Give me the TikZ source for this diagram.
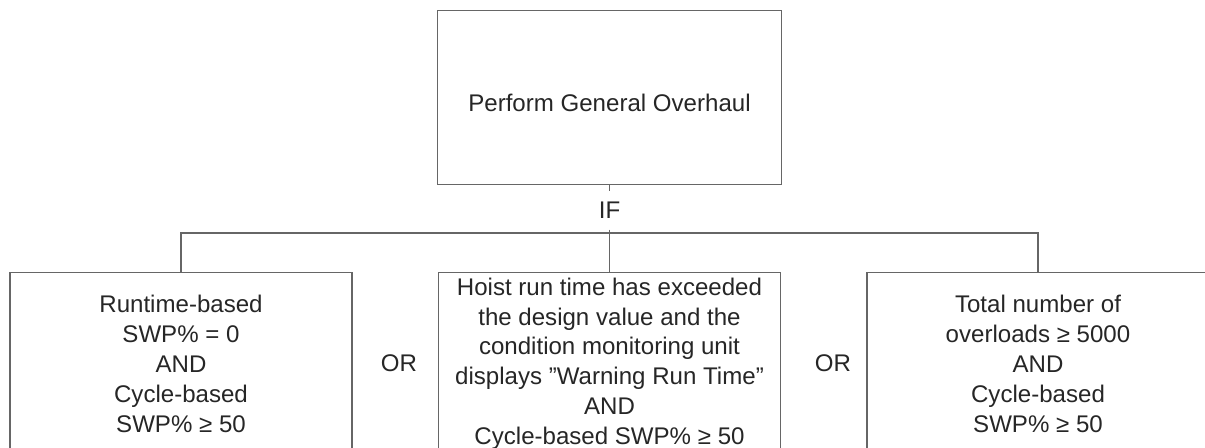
\documentclass[tikz,border=0pt]{standalone}
\usepackage{fontspec}
\setmainfont{Liberation Sans}
\usetikzlibrary{positioning}

\begin{document}
\begin{tikzpicture}[
    cond/.style={draw=black!60, line width=0.8pt, minimum width=6.84cm, minimum height=3.64cm,
                 inner sep=0pt, align=center, anchor=north, text=black!85},
    link/.style={draw=black!60, line width=0.8pt},
    font=\fontsize{13.7}{17}\selectfont,
]
\useasboundingbox (0,0) rectangle (24.1,-8.96);
\clip (0,0) rectangle (24.1,-8.96);
\node[cond, minimum width=6.88cm, minimum height=3.48cm, text height=0.54cm, text depth=0pt]
   (overhaul) at (12.19,-0.2) {Perform General Overhaul};
\node[text=black!85, inner sep=0.21cm] (if) at (12.19,-4.21) {IF};
\coordinate (bus) at (12.19,-4.66);
\node[cond] (runtime) at (3.62,-5.44)
   {Runtime-based\\ SWP\% = 0\\ AND\\ Cycle-based\\ SWP\% ≥ 50};
\node[cond] (hoist) at (12.19,-5.44)
   {Hoist run time has exceeded\\ the design value and the\\ condition monitoring unit\\
    displays ”Warning Run Time”\\ AND\\ Cycle-based SWP\% ≥ 50};
\node[cond] (overloads) at (20.76,-5.44)
   {Total number of\\ overloads ≥ 5000\\ AND\\ Cycle-based\\ SWP\% ≥ 50};
\node[text=black!85] (or1) at (7.98,-7.26) {OR};
\node[text=black!85] (or2) at (16.66,-7.26) {OR};
\draw[link] (overhaul.south) -- (if.north);
\draw[link] (if.south) -- (hoist.north);
\draw[link] (runtime.north) |- (bus) -| (overloads.north);
\end{tikzpicture}
\end{document}
